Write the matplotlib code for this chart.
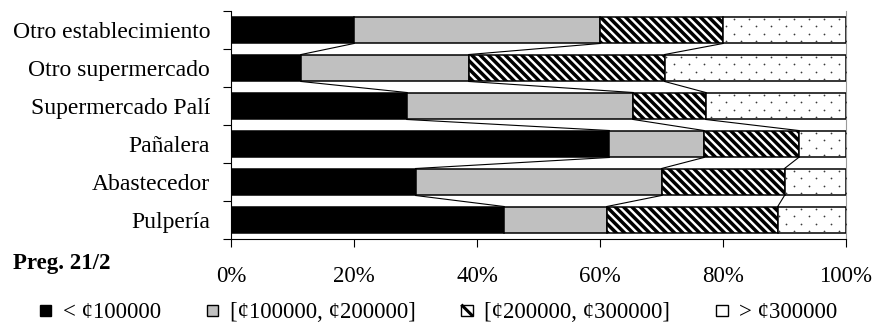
import matplotlib
matplotlib.use("Agg")
import matplotlib.pyplot as plt
from matplotlib.patches import Patch, Rectangle
from matplotlib.lines import Line2D
from matplotlib.legend_handler import HandlerPatch
import numpy as np

plt.rcParams['font.family'] = ['Liberation Serif', 'DejaVu Serif']
plt.rcParams['hatch.linewidth'] = 2.5

# Categories listed bottom to top
categories = ["Pulpería", "Abastecedor", "Pañalera", "Supermercado Palí",
              "Otro supermercado", "Otro establecimiento"]

# Share of respondents (%) by income bracket
s_lt100 = [44.4, 30.0, 61.5, 28.6, 11.4, 20.0]
s_100_200 = [16.7, 40.0, 15.4, 36.8, 27.3, 40.0]
s_200_300 = [27.8, 20.0, 15.4, 11.8, 31.8, 20.0]
s_gt300 = [11.1, 10.0, 7.7, 22.8, 29.5, 20.0]

series_labels = ["< ¢100000", "[¢100000, ¢200000]", "[¢200000, ¢300000]", "> ¢300000"]
x_ticks = [0, 20, 40, 60, 80, 100]
x_ticklabels = ["0%", "20%", "40%", "60%", "80%", "100%"]

FS = 16.5
fig = plt.figure(figsize=(8.77, 3.26), dpi=100)
ax = fig.add_axes([231 / 877, 87 / 326, 615 / 877, 228 / 326])

series = [s_lt100, s_100_200, s_200_300, s_gt300]
styles = [
    dict(facecolor="black", hatch=None),
    dict(facecolor="#c0c0c0", hatch=None),
    dict(facecolor="white", hatch="\\\\\\\\"),
    dict(facecolor="white", hatch=None),
]

y = np.arange(len(categories))
h = 0.71
left = np.zeros(len(categories))
bounds = []
containers = []
for vals, st in zip(series, styles):
    vals = np.array(vals, dtype=float)
    bars = ax.barh(y, vals, left=left, height=h, facecolor=st['facecolor'],
                   edgecolor="black", linewidth=1.1, hatch=st['hatch'], zorder=3)
    containers.append(bars)
    left = left + vals
    bounds.append(left.copy())

# Dotted texture for the top bracket, clipped to each of its bars
gx, gy = 15 / 615, 7.6 / 228
rows = np.arange(0, 1 + gy, gy)
pts_x, pts_y = [], []
for r, yy in enumerate(rows):
    xs = np.arange((r % 2) * gx / 2, 1 + gx, gx)
    pts_x.extend(xs)
    pts_y.extend([yy] * len(xs))
for bar in containers[3]:
    sc = ax.scatter(pts_x, pts_y, s=1.6, color="#3a3a3a", linewidths=0,
                    transform=ax.transAxes, zorder=4)
    sc.set_clip_path(bar)

# Series lines joining segment boundaries of neighbouring bars
for cum in bounds[:3]:
    for k in range(1, len(categories)):
        ax.plot([cum[k], cum[k - 1]], [k - h / 2, k - 1 + h / 2],
                color="black", linewidth=0.8, zorder=2)

ax.set_xlim(0, 100)
ax.set_ylim(-0.5, len(categories) - 0.5)
ax.set_xticks(x_ticks)
ax.set_xticklabels(x_ticklabels, fontsize=FS)
ax.set_yticks(y)
ax.set_yticklabels(categories, fontsize=17)
ax.set_yticks(np.arange(-0.5, len(categories), 1.0), minor=True)
ax.tick_params(axis='y', which='major', length=0, pad=15)
ax.tick_params(axis='y', which='minor', length=6, width=0.8, direction='out')
ax.tick_params(axis='x', which='major', length=5.8, width=0.8, pad=14, direction='out')

ax.spines['top'].set_visible(False)
ax.spines['right'].set_color('#9a9a9a')
ax.spines['right'].set_linewidth(0.8)
ax.spines['left'].set_linewidth(0.8)
ax.spines['bottom'].set_linewidth(0.8)

fig.text(13 / 877, 1 - 269 / 326, "Preg. 21/2", fontsize=FS, fontweight="bold",
         ha="left", va="baseline")


class SwatchHandler(HandlerPatch):
    """Square swatch; striped entries get a single bold diagonal."""

    def create_artists(self, legend, orig_handle, xdescent, ydescent,
                       width, height, fontsize, trans):
        side = min(width, height)
        x0 = -xdescent + (width - side) / 2
        y0 = -ydescent + (height - side) / 2
        rect = Rectangle((x0, y0), side, side, facecolor=orig_handle.get_facecolor(),
                         edgecolor="black", linewidth=1.0, transform=trans)
        arts = [rect]
        if orig_handle.get_hatch():
            arts.append(Line2D([x0, x0 + side], [y0 + side, y0], color="black",
                               linewidth=2.2, transform=trans,
                               solid_capstyle="butt"))
        return arts


handles = [Patch(facecolor=st['facecolor'], edgecolor="black", linewidth=1.0,
                 hatch=st['hatch'], label=lab)
           for lab, st in zip(series_labels, styles)]

fig.legend(handles=handles, loc="center", bbox_to_anchor=(0.5, 1 - 313 / 326),
           ncol=4, frameon=False, fontsize=FS, handlelength=0.5, handleheight=0.5,
           handletextpad=0.5, columnspacing=2.0, borderaxespad=0, borderpad=0,
           handler_map={Patch: SwatchHandler()})

fig.savefig("out.png", dpi=100)
